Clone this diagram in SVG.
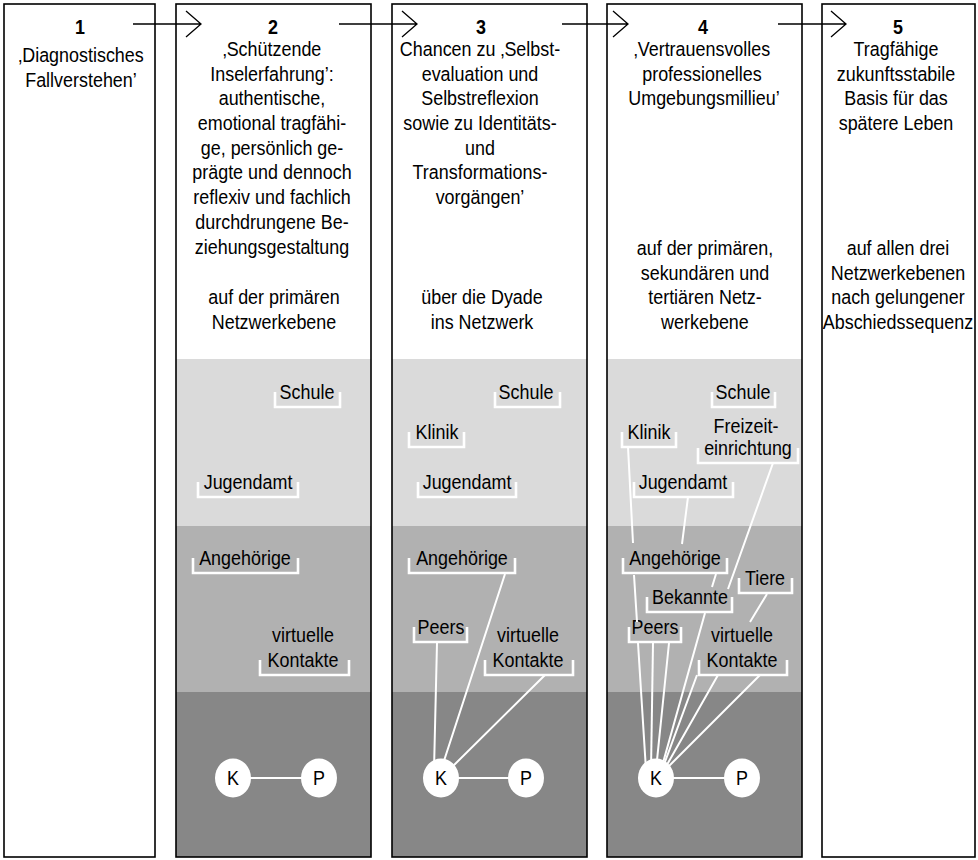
<svg xmlns="http://www.w3.org/2000/svg" width="978" height="860" viewBox="0 0 978 860">
<style>
.bg{fill:#fff}
.frame{fill:none;stroke:#000;stroke-width:1.6}
.l1{fill:#dadada}.l2{fill:#b1b1b1}.l3{fill:#878787}
text{font-family:"Liberation Sans",Arial,sans-serif;font-size:19.5px;fill:#000;text-anchor:middle;transform-box:fill-box;transform-origin:center;transform:scaleX(0.92)}
.n{font-weight:bold}
.br{fill:none;stroke:#fff;stroke-width:2.6}
.ln{stroke:#fff;stroke-width:2;fill:none}
.arr{fill:none;stroke:#000;stroke-width:1.3}
.node{fill:#fff}
</style>

<g id="col1">
<rect class="bg" x="4" y="4" width="151" height="853"/>
<rect class="frame" x="4" y="4" width="151" height="853"/>
<text class="n" x="80" y="34">1</text>
<text x="81" y="62">‚Diagnostisches</text>
<text x="81" y="86.7">Fallverstehen’</text>
</g>

<g id="col2">
<rect class="bg" x="176" y="4" width="195" height="853"/>
<rect class="l1" x="176" y="359" width="195" height="167"/>
<rect class="l2" x="176" y="526" width="195" height="166"/>
<rect class="l3" x="176" y="692" width="195" height="165"/>
<rect class="frame" x="176" y="4" width="195" height="853"/>
<text class="n" x="273" y="34">2</text>
<text x="272" y="56">‚Schützende</text>
<text x="272" y="80.7">Inselerfahrung’:</text>
<text x="272" y="105.4">authentische,</text>
<text x="272" y="130.1">emotional tragfähi-</text>
<text x="272" y="154.8">ge, persönlich ge-</text>
<text x="272" y="179.5">prägte und dennoch</text>
<text x="272" y="204.2">reflexiv und fachlich</text>
<text x="272" y="228.9">durchdrungene Be-</text>
<text x="272" y="253.6">ziehungsgestaltung</text>
<text x="274" y="304.5">auf der primären</text>
<text x="274" y="329">Netzwerkebene</text>
</g>

<g id="col3">
<rect class="bg" x="392" y="4" width="195" height="853"/>
<rect class="l1" x="392" y="359" width="195" height="167"/>
<rect class="l2" x="392" y="526" width="195" height="166"/>
<rect class="l3" x="392" y="692" width="195" height="165"/>
<rect class="frame" x="392" y="4" width="195" height="853"/>
<text class="n" x="481" y="34">3</text>
<text x="480" y="56">Chancen zu ‚Selbst-</text>
<text x="480" y="80.7">evaluation und</text>
<text x="480" y="105.4">Selbstreflexion</text>
<text x="480" y="130.1">sowie zu Identitäts-</text>
<text x="480" y="154.8">und</text>
<text x="480" y="179.5">Transformations-</text>
<text x="480" y="204.2">vorgängen’</text>
<text x="482" y="304.5">über die Dyade</text>
<text x="482" y="329">ins Netzwerk</text>
</g>

<g id="col4">
<rect class="bg" x="607" y="4" width="195" height="853"/>
<rect class="l1" x="607" y="359" width="195" height="167"/>
<rect class="l2" x="607" y="526" width="195" height="166"/>
<rect class="l3" x="607" y="692" width="195" height="165"/>
<rect class="frame" x="607" y="4" width="195" height="853"/>
<text class="n" x="703" y="34">4</text>
<text x="702" y="56">‚Vertrauensvolles</text>
<text x="702" y="80.7">professionelles</text>
<text x="704" y="105.4">Umgebungsmillieu’</text>
<text x="705" y="255.5">auf der primären,</text>
<text x="705" y="280">sekundären und</text>
<text x="705" y="304.5">tertiären Netz-</text>
<text x="705" y="329">werkebene</text>
</g>

<g id="col5">
<rect class="bg" x="822" y="4" width="153" height="853"/>
<rect class="frame" x="822" y="4" width="153" height="853"/>
<text class="n" x="898" y="34">5</text>
<text x="896" y="56">Tragfähige</text>
<text x="896" y="80.7">zukunftsstabile</text>
<text x="896" y="105.4">Basis für das</text>
<text x="896" y="130.1">spätere Leben</text>
<text x="898" y="255.5">auf allen drei</text>
<text x="898" y="280">Netzwerkebenen</text>
<text x="898" y="304.5">nach gelungener</text>
<text x="898" y="329">Abschiedssequenz</text>
</g>

<g id="c2-schule"><text x="307" y="399">Schule</text><path class="br" d="M275,392V407H340V392"/></g>
<g id="c2-jugendamt"><text x="248" y="489">Jugendamt</text><path class="br" d="M198,482V497H298V482"/></g>
<g id="c2-angehoerige"><text x="245" y="565">Angehörige</text><path class="br" d="M193,558V573H298V558"/></g>
<g id="c2-virtuell"><text x="303" y="642">virtuelle</text><text x="303" y="667">Kontakte</text><path class="br" d="M260,660V675H349V660"/></g>

<g id="c3-schule"><text x="526" y="399">Schule</text><path class="br" d="M495,392V407H560V392"/></g>
<g id="c3-klinik"><text x="437" y="439">Klinik</text><path class="br" d="M409,432V447H464V432"/></g>
<g id="c3-jugendamt"><text x="467" y="489">Jugendamt</text><path class="br" d="M418,482V497H516V482"/></g>
<g id="c3-angehoerige"><text x="462" y="565">Angehörige</text><path class="br" d="M409,558V573H515V558"/></g>
<g id="c3-peers"><text x="441" y="634">Peers</text><path class="br" d="M414,627V642H467V627"/></g>
<g id="c3-virtuell"><text x="528" y="642">virtuelle</text><text x="528" y="667">Kontakte</text><path class="br" d="M485,660V675H573V660"/></g>

<g id="c4-schule"><text x="743" y="399">Schule</text><path class="br" d="M712,392V407H775V392"/></g>
<g id="c4-freizeit"><text x="746" y="433">Freizeit-</text><text x="748" y="455">einrichtung</text><path class="br" d="M698,448V463H798V448"/></g>
<g id="c4-klinik"><text x="649" y="439">Klinik</text><path class="br" d="M622,432V447H676V432"/></g>
<g id="c4-jugendamt"><text x="683" y="489">Jugendamt</text><path class="br" d="M634,482V497H733V482"/></g>
<g id="c4-angehoerige"><text x="675" y="565">Angehörige</text><path class="br" d="M623,558V573H727V558"/></g>
<g id="c4-bekannte"><text x="690" y="604">Bekannte</text><path class="br" d="M647,597V612H732V597"/></g>
<g id="c4-tiere"><text x="765" y="585">Tiere</text><path class="br" d="M739,578V593H792V578"/></g>
<g id="c4-peers"><text x="655" y="634">Peers</text><path class="br" d="M629,627V642H681V627"/></g>
<g id="c4-virtuell"><text x="742" y="642">virtuelle</text><text x="742" y="667">Kontakte</text><path class="br" d="M699,660V675H787V660"/></g>

<g id="connectors">
<path class="arr" d="M133,24H201M186,11L201,24L186,37"/>
<path class="arr" d="M339,24H417M402,11L417,24L402,37"/>
<path class="arr" d="M562,24H628M613,11L628,24L613,37"/>
<path class="arr" d="M778,24H846M831,11L846,24L831,37"/>
<line class="ln" x1="233" y1="778" x2="319" y2="778"/>
<line class="ln" x1="441" y1="778" x2="526" y2="778"/>
<line class="ln" x1="656" y1="778" x2="742" y2="778"/>
<path class="ln" d="M437,643L434,770M505,574L441,770M545,675L447,772"/>
<path class="ln" d="M628,447L633,543M634,575L637,622M638,643L646,770"/>
<path class="ln" d="M688,497L682,544M669,643L656,770"/>
<path class="ln" d="M716,574L712,587M705,613L661,770"/>
<path class="ln" d="M653,643L651,770"/>
<path class="ln" d="M773,463L728,589M697,675L662,770"/>
<path class="ln" d="M767,594L750,622M718,675L664,770"/>
<path class="ln" d="M760,675L665,770"/>
</g>

<g id="c2-K"><ellipse class="node" cx="233" cy="778" rx="18" ry="19.5"/><text x="233" y="785">K</text></g>
<g id="c2-P"><ellipse class="node" cx="319" cy="778" rx="18" ry="19.5"/><text x="319" y="785">P</text></g>
<g id="c3-K"><ellipse class="node" cx="441" cy="778" rx="18" ry="19.5"/><text x="441" y="785">K</text></g>
<g id="c3-P"><ellipse class="node" cx="526" cy="778" rx="18" ry="19.5"/><text x="526" y="785">P</text></g>
<g id="c4-K"><ellipse class="node" cx="656" cy="778" rx="18" ry="19.5"/><text x="656" y="785">K</text></g>
<g id="c4-P"><ellipse class="node" cx="742" cy="778" rx="18" ry="19.5"/><text x="742" y="785">P</text></g>
</svg>
